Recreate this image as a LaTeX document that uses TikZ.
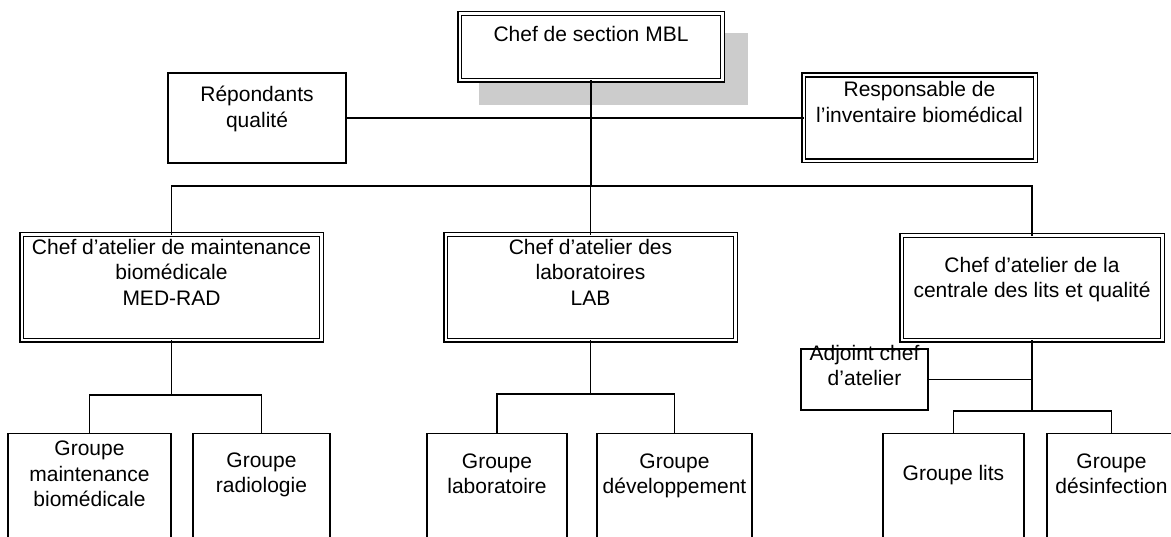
\documentclass[tikz,border=0pt]{standalone}
\usepackage{fontspec}
\setmainfont{Liberation Sans}
\usetikzlibrary{calc}
\begin{document}
\begin{tikzpicture}[x=1pt,y=-1pt,
  line width=1.6pt,
  box/.style={draw, fill=white, inner sep=0pt, outer sep=0pt},
  dbox/.style={box, double, double distance=2.2pt, line width=1.5pt},
  txt/.style={inner sep=0pt, align=center, anchor=base,
              font=\fontsize{21}{25.5}\selectfont},
  link/.style={line width=1.9pt}]
\clip (0,0) rectangle (1171,537);

% drop shadow of the head box
\fill[black!20] (479,33) rectangle (748,105);

% head and staff boxes
\node[dbox, minimum width=262.8, minimum height=66.8] (top) at (591,47) {};
\node[box,  minimum width=178,   minimum height=90]   (rep) at (257,118) {};
\node[dbox, minimum width=231.8, minimum height=85.8] (resp) at (919.5,118) {};

% workshop heads
\node[dbox, minimum width=299.8, minimum height=105.8] (medrad) at (171.5,287.5) {};
\node[dbox, minimum width=289.8, minimum height=105.8] (lab)    at (590.5,287.5) {};
\node[dbox, minimum width=260.8, minimum height=104.8] (central) at (1032,288) {};
\node[box,  minimum width=127,   minimum height=61]    (adj)    at (864.5,379.5) {};

% groups (running past the lower edge)
\node[box, minimum width=163, minimum height=146] (g1) at (89.5,506.5) {};
\node[box, minimum width=137, minimum height=146] (g2) at (261.5,506.5) {};
\node[box, minimum width=140, minimum height=146] (g3) at (497,506.5) {};
\node[box, minimum width=155, minimum height=146] (g4) at (674.5,506.5) {};
\node[box, minimum width=141, minimum height=146] (g5) at (953.5,506.5) {};
\node[box, minimum width=129, minimum height=146] (g6) at (1111.5,506.5) {};

% labels (base anchor sits on the last line of each label)
\node[txt] (top-t)     at ($(top.north)+(0,28.4)$)     {Chef de section MBL};
\node[txt] (rep-t)     at ($(rep.north)+(0,54.5)$)     {Répondants\\qualité};
\node[txt] (resp-t)    at ($(resp.north)+(0,47)$)      {Responsable de\\l’inventaire biomédical};
\node[txt] (medrad-t)  at ($(medrad.north)+(0,70.5)$)  {Chef d’atelier de maintenance\\biomédicale\\MED-RAD};
\node[txt] (lab-t)     at ($(lab.north)+(0,70.5)$)     {Chef d’atelier des\\laboratoires\\LAB};
\node[txt] (central-t) at ($(central.north)+(0,62)$)   {Chef d’atelier de la\\centrale des lits et qualité};
\node[txt] (adj-t)     at ($(adj.north)+(0,37)$)       {Adjoint chef\\d’atelier};
\node[txt] (g1-t) at ($(g1.north)+(0,73)$)   {Groupe\\maintenance\\biomédicale};
\node[txt] (g2-t) at ($(g2.north)+(0,59.5)$) {Groupe\\radiologie};
\node[txt] (g3-t) at ($(g3.north)+(0,60)$)   {Groupe\\laboratoire};
\node[txt] (g4-t) at ($(g4.north)+(0,60)$)   {Groupe\\développement};
\node[txt] (g5-t) at ($(g5.north)+(0,46.5)$) {Groupe lits};
\node[txt] (g6-t) at ($(g6.north)+(0,60)$)   {Groupe\\désinfection};

% bus levels
\coordinate (bus)  at (0,186);
\coordinate (mbus) at (0,395);
\coordinate (lbus) at (0,394);
\coordinate (cbus) at (0,411);

% connectors
\draw[link] (rep.east) -- (resp.west);
\draw[link] (top.south) -- (top.south |- bus);
\draw[link] (medrad.north) |- (bus -| central.north) -- (central.north);
\draw[link] (lab.north) -- (lab.north |- bus);

\draw[link] (medrad.south) -- (medrad.south |- mbus);
\draw[link] (g1.north) |- (mbus -| g2.north) -- (g2.north);

\draw[link] (lab.south) -- (lab.south |- lbus);
\draw[link] (g3.north) |- (lbus -| g4.north) -- (g4.north);

\draw[link] (central.south) -- (central.south |- cbus);
\draw[link] (adj.east) -- (adj.east -| central.south);
\draw[link] (g5.north) |- (cbus -| g6.north) -- (g6.north);
\end{tikzpicture}
\end{document}
